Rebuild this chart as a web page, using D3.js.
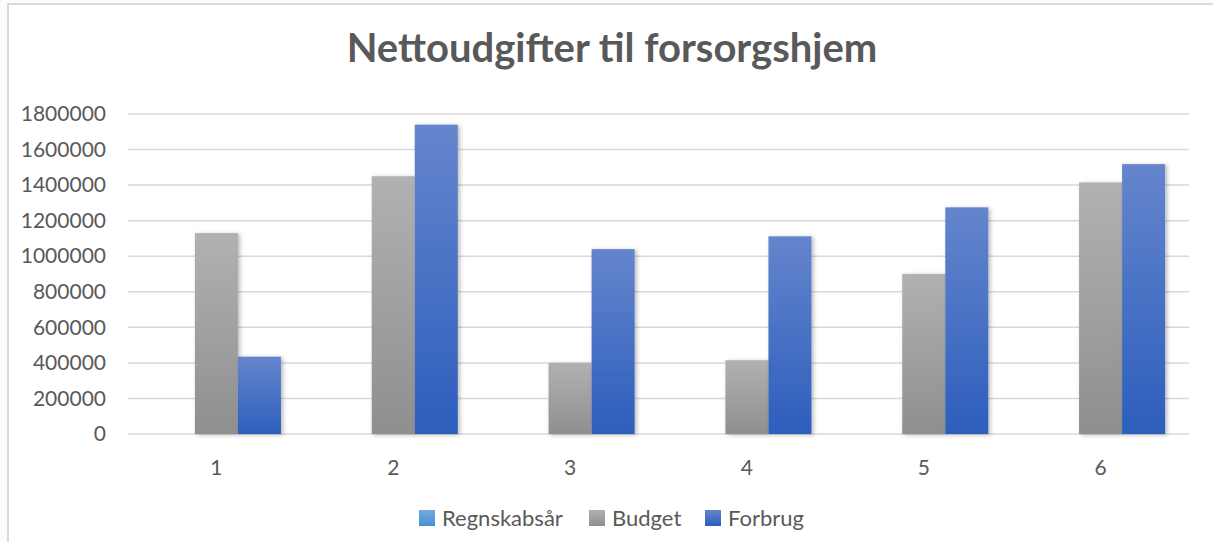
<!DOCTYPE html>
<html>
<head>
<meta charset="utf-8">
<script src="https://cdn.jsdelivr.net/npm/d3@7"></script>
<style>
  body { margin: 0; background: #fcfbf8; }
  svg { display: block; font-family: Lato, "Open Sans", sans-serif; }
</style>
</head>
<body>
<svg></svg>
<script>
var categories = ["1", "2", "3", "4", "5", "6"];
var seriesNames = ["Regnskabsår", "Budget", "Forbrug"];
var regnskabsaar = [0, 0, 0, 0, 0, 0];
var budget = [1130000, 1450000, 400000, 415000, 900000, 1415000];
var forbrug = [435000, 1740000, 1040000, 1112000, 1275000, 1518000];
var yTicks = [0, 200000, 400000, 600000, 800000, 1000000, 1200000, 1400000, 1600000, 1800000];

var screen = {width: 1213, height: 542};
var margins = {top: 114, right: 24, bottom: 108, left: 128};

var width = screen.width - margins.left - margins.right;
var height = screen.height - margins.top - margins.bottom;

var svg = d3.select("svg")
    .attr("width", screen.width)
    .attr("height", screen.height);

var defs = svg.append("defs");

var gradients = [
    {id: "gRegn", top: "#72aadf", bottom: "#4a8fd6"},
    {id: "gBudget", top: "#b1b1b1", bottom: "#8f8f8f"},
    {id: "gForbrug", top: "#6585cd", bottom: "#2c5ebc"}
];
gradients.forEach(function(g) {
    var lg = defs.append("linearGradient")
        .attr("id", g.id)
        .attr("x1", 0).attr("y1", 0).attr("x2", 0).attr("y2", 1);
    lg.append("stop").attr("offset", "0%").attr("stop-color", g.top);
    lg.append("stop").attr("offset", "100%").attr("stop-color", g.bottom);
});

var shadow = defs.append("filter")
    .attr("id", "shadow")
    .attr("x", "-20%").attr("y", "-10%").attr("width", "150%").attr("height", "130%");
shadow.append("feDropShadow")
    .attr("dx", 2).attr("dy", 1)
    .attr("stdDeviation", 2.2)
    .attr("flood-color", "#000")
    .attr("flood-opacity", 0.28);

// chart frame
svg.append("rect")
    .attr("x", 8).attr("y", 4)
    .attr("width", screen.width + 10).attr("height", screen.height + 10)
    .attr("fill", "#ffffff")
    .attr("stroke", "#d9d9d9")
    .attr("stroke-width", 2);

svg.append("text")
    .attr("x", 612)
    .attr("y", 62)
    .attr("text-anchor", "middle")
    .attr("fill", "#595959")
    .attr("font-size", 40)
    .attr("font-weight", "bold")
    .text("Nettoudgifter til forsorgshjem");

var graph = svg.append("g")
    .attr("transform", "translate(" + margins.left + "," + margins.top + ")");

var xScale = d3.scaleBand().domain(categories).range([0, width])
    .paddingInner(0.27).paddingOuter(0.135);
var xInner = d3.scaleBand().domain(seriesNames).range([0, xScale.bandwidth()]).padding(0);
var yScale = d3.scaleLinear().domain([0, 1800000]).range([height, 0]);

var colorFill = {
    "Regnskabsår": "url(#gRegn)",
    "Budget": "url(#gBudget)",
    "Forbrug": "url(#gForbrug)"
};

// gridlines
graph.append("g")
    .selectAll("line")
    .data(yTicks)
    .enter()
    .append("line")
    .attr("x1", 0).attr("x2", width)
    .attr("y1", function(d) { return yScale(d); })
    .attr("y2", function(d) { return yScale(d); })
    .attr("stroke", "#d9d9d9")
    .attr("stroke-width", 1.5);

var yAxis = d3.axisLeft(yScale).tickValues(yTicks).tickSize(0).tickPadding(22)
    .tickFormat(function(d) { return String(d); });
var yg = graph.append("g").call(yAxis);
yg.select(".domain").remove();
yg.selectAll("text")
    .attr("fill", "#595959")
    .attr("font-size", 21)
    .attr("font-family", "Lato, sans-serif");

var xAxis = d3.axisBottom(xScale).tickSize(0).tickPadding(26);
var xg = graph.append("g").attr("transform", "translate(0," + height + ")").call(xAxis);
xg.select(".domain").remove();
xg.selectAll("text")
    .attr("fill", "#595959")
    .attr("font-size", 21)
    .attr("font-family", "Lato, sans-serif");

var rows = categories.map(function(c, i) {
    return {
        cat: c,
        values: [
            {name: "Regnskabsår", value: regnskabsaar[i]},
            {name: "Budget", value: budget[i]},
            {name: "Forbrug", value: forbrug[i]}
        ]
    };
});

graph.append("g")
    .selectAll("g")
    .data(rows)
    .enter()
    .append("g")
    .attr("transform", function(d) { return "translate(" + xScale(d.cat) + ",0)"; })
    .selectAll("rect")
    .data(function(d) { return d.values.filter(function(v) { return v.value > 0; }); })
    .enter()
    .append("rect")
    .attr("x", function(v) { return xInner(v.name); })
    .attr("width", xInner.bandwidth())
    .attr("y", function(v) { return yScale(v.value); })
    .attr("height", function(v) { return height - yScale(v.value); })
    .attr("fill", function(v) { return colorFill[v.name]; })
    .attr("filter", "url(#shadow)");

// legend
var legendX = [419, 589, 705];
var legend = svg.append("g")
    .selectAll("g")
    .data(seriesNames)
    .enter()
    .append("g")
    .attr("transform", function(d, i) { return "translate(" + legendX[i] + ",510)"; });

legend.append("rect")
    .attr("width", 16).attr("height", 16)
    .attr("fill", function(d) { return colorFill[d]; });

legend.append("text")
    .attr("x", 23)
    .attr("y", 16)
    .attr("fill", "#595959")
    .attr("font-size", 22)
    .text(function(d) { return d; });
</script>
</body>
</html>
